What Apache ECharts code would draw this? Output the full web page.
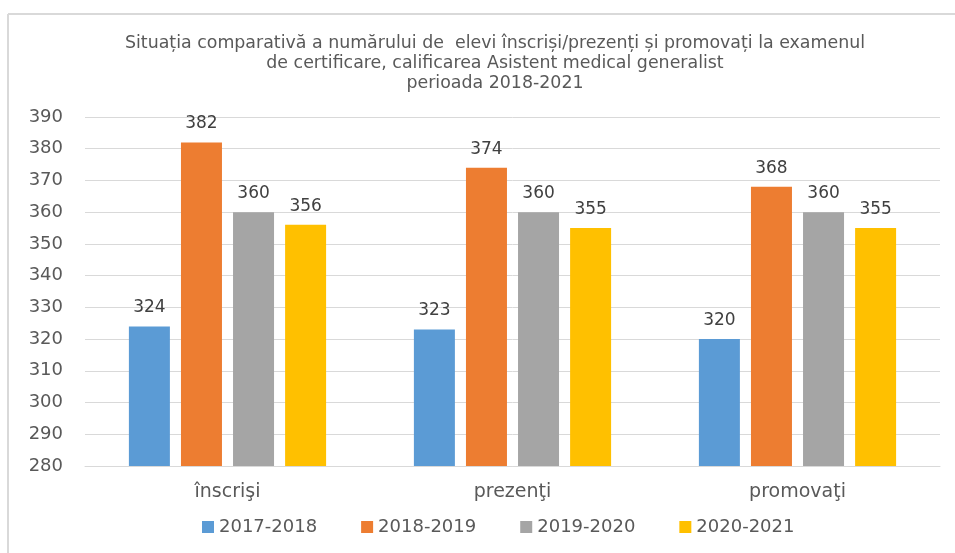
<!DOCTYPE html>
<html>
<head>
<meta charset="utf-8">
<script src="https://cdn.jsdelivr.net/npm/echarts@6/dist/echarts.min.js"></script>
<style>
  html, body { margin: 0; padding: 0; background: #fff; }
  #chart { width: 955px; height: 553px; }
</style>
</head>
<body>
<div id="chart"></div>
<script>
// date
var categories = ["înscrişi", "prezenţi", "promovaţi"];
var seriesNames = ["2017-2018", "2018-2019", "2019-2020", "2020-2021"];
var v2017 = [324, 323, 320];
var v2018 = [382, 374, 368];
var v2019 = [360, 360, 360];
var v2020 = [356, 355, 355];
var yTicks = [280, 290, 300, 310, 320, 330, 340, 350, 360, 370, 380, 390];

var colors = ["#5B9BD5", "#ED7D31", "#A5A5A5", "#FFC000"];
var font = "DejaVu Sans";

var chart = echarts.init(document.getElementById("chart"));

function bar(name, data, color) {
  return {
    name: name,
    type: "bar",
    data: data,
    barWidth: 41,
    barGap: "27%",
    animation: false,
    itemStyle: { color: color },
    label: {
      show: true,
      position: "top",
      distance: 10,
      color: "#404040",
      fontFamily: font,
      fontSize: 17
    }
  };
}

chart.setOption({
  backgroundColor: "#fff",
  title: {
    text: "Situația comparativă a numărului de  elevi înscriși/prezenți și promovați la examenul\nde certificare, calificarea Asistent medical generalist\nperioada 2018-2021",
    left: 490,
    top: 28,
    textAlign: "center",
    textStyle: {
      color: "#595959",
      fontFamily: font,
      fontSize: 17.4,
      fontWeight: "normal",
      lineHeight: 20
    }
  },
  legend: {
    data: seriesNames,
    bottom: 12,
    left: 197,
    itemWidth: 12,
    itemHeight: 12,
    itemGap: 44,
    icon: "rect",
    textStyle: { color: "#595959", fontFamily: font, fontSize: 18 }
  },
  grid: { left: 85, right: 15, top: 117, bottom: 87 },
  xAxis: {
    type: "category",
    data: categories,
    axisTick: { show: false },
    axisLine: { lineStyle: { color: "#d9d9d9", width: 1 } },
    axisLabel: { color: "#595959", fontFamily: font, fontSize: 19, margin: 17 }
  },
  yAxis: {
    type: "value",
    min: yTicks[0],
    max: yTicks[yTicks.length - 1],
    interval: 10,
    axisLine: { show: false },
    axisTick: { show: false },
    axisLabel: { color: "#595959", fontFamily: font, fontSize: 18, margin: 22 },
    splitLine: { lineStyle: { color: "#d9d9d9" } }
  },
  graphic: [
    { type: "line", shape: { x1: 8, y1: 14, x2: 955, y2: 14 }, style: { stroke: "#d9d9d9", lineWidth: 2 } },
    { type: "line", shape: { x1: 8, y1: 14, x2: 8, y2: 553 }, style: { stroke: "#d9d9d9", lineWidth: 2 } }
  ],
  series: [
    bar(seriesNames[0], v2017, colors[0]),
    bar(seriesNames[1], v2018, colors[1]),
    bar(seriesNames[2], v2019, colors[2]),
    bar(seriesNames[3], v2020, colors[3])
  ]
});
</script>
</body>
</html>
